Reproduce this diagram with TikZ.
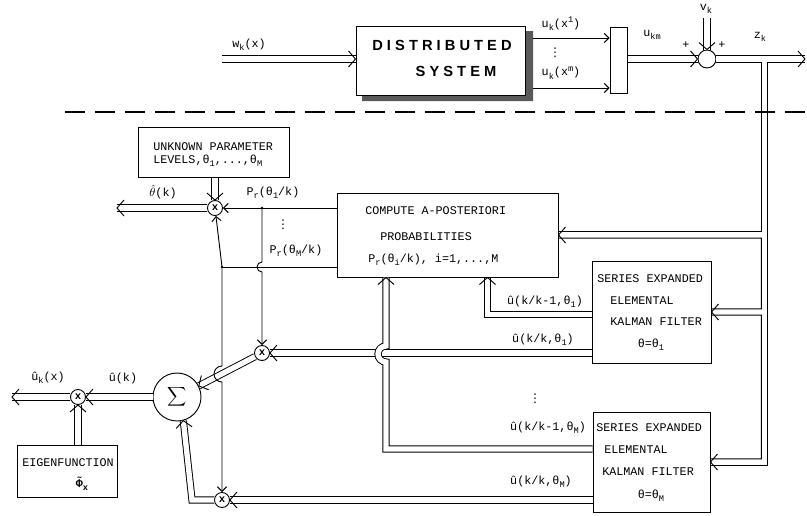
\documentclass[tikz,border=0pt]{standalone}
\usepackage{fontspec}
\usetikzlibrary{arrows.meta,calc,fit}
\newfontfamily\twfont{Liberation Mono}
\newfontfamily\dsfont{Liberation Sans}
\newfontfamily\djvfont{DejaVu Sans}
\newcommand\lsub[1]{\raisebox{-0.55ex}{\fontsize{6.5}{7}\selectfont #1}}
\newcommand\lsup[1]{\raisebox{0.7ex}{\fontsize{6.5}{7}\selectfont #1}}
\newcommand\vdts{{\djvfont\fontsize{9}{9}\selectfont ⋮}}
\begin{document}
\begin{tikzpicture}[x=0.75pt,y=-0.75pt,
  every node/.style={font=\twfont\fontsize{8.8}{10}\selectfont, inner sep=0pt},
  ln/.style={line width=0.7pt},
  pipe/.style={double, double distance=4pt, line width=0.7pt},
  sarr/.style={line width=0.7pt, -{Straight Barb[length=3.5pt,width=7pt]}},
  boxx/.style={draw, line width=0.75pt, inner sep=0pt},
  mult/.style={draw, circle, line width=0.7pt, minimum size=11.25pt, inner sep=0pt, font=\dsfont\bfseries\fontsize{8}{8}\selectfont},
  chev/.pic={\draw[line width=0.7pt] (-7,-8) -- (0,0) -- (-7,8);},
  lbl/.style={anchor=west}
]
\useasboundingbox (0,0) rectangle (807,515);

% ---------- top: distributed system ----------
\fill[black!65] (525,31) -- (533,31) -- (533,101) -- (362,101) -- (362,95) -- (525,95) -- cycle;
\node[boxx, fit={(356,26) (525,95)}] (ds) {};
\node at (442,45) {\dsfont\bfseries\fontsize{11}{12}\selectfont D I S T R I B U T E D};
\node at (456,71) {\dsfont\bfseries\fontsize{11}{12}\selectfont S Y S T E M};
\node[boxx, fit={(610,27) (627,93)}] (sb) {};
\node[draw, circle, line width=0.7pt, minimum size=13.5pt] (sj) at (707,59) {};

\coordinate (win) at (222,59);
\draw[pipe] (win) -- (win -| ds.west);
\path (win -| ds.west) pic{chev};
\node at (249,45) {w\lsub{k}(x)};

\coordinate (u1s) at (533,38);
\coordinate (ums) at (533,88);
\draw[sarr] (u1s) -- (u1s -| sb.west);
\draw[sarr] (ums) -- (ums -| sb.west);
\node at (561,24) {u\lsub{k}(x\lsup{1})};
\node at (555,53) {\vdts};
\node at (561,73) {u\lsub{k}(x\lsup{m})};

\draw[pipe] (sb.east |- sj) -- (sj.west);
\path (sj.west) pic{chev};
\node at (652,35) {u\lsub{km}};
\node at (686,45) {+};
\node at (722,45) {+};

\coordinate (vtop) at (707,18);
\draw[pipe] (vtop) -- (sj.north);
\path (sj.north) pic[rotate=270]{chev};
\node at (706,9) {v\lsub{k}};

\coordinate (zout) at (805,59);
\draw[pipe] (sj.east) -- (zout);
\path (zout) pic{chev};
\node at (760,37) {z\lsub{k}};

% dashed separator
\draw[line width=0.8pt, dash pattern=on 15pt off 7.5pt] (65,112) -- (807,112);

% ---------- lower part: nodes ----------
\node[boxx, fit={(138,127) (289,177)}] (upl) {};
\node[lbl] at (153,147) {UNKNOWN PARAMETER};
\node[lbl] at (153,161) {LEVELS,θ\lsub{1},...,θ\lsub{M}};

\node[boxx, fit={(337,193) (558,277)}] (cmp) {};
\node[lbl] at (365,211) {COMPUTE A-POSTERIORI};
\node[lbl] at (380,237) {PROBABILITIES};
\node[lbl] at (368,260) {P\lsub{r}(θ\lsub{i}/k), i=1,...,M};

\node[boxx, fit={(592,261) (711,363)}] (f1) {};
\node[lbl] at (597,279) {SERIES EXPANDED};
\node[lbl] at (610,301) {ELEMENTAL};
\node[lbl] at (610,322) {KALMAN FILTER};
\node at (651,345) {θ=θ\lsub{1}};

\node[boxx, fit={(593,412) (710,512)}] (fM) {};
\node[lbl] at (596,428) {SERIES EXPANDED};
\node[lbl] at (604,450) {ELEMENTAL};
\node[lbl] at (602,472) {KALMAN FILTER};
\node at (651,496) {θ=θ\lsub{M}};

\node[boxx, fit={(17,445) (117,497)}] (eig) {};
\node[lbl] at (22,463) {EIGENFUNCTION};
\node at (82,484) {\bfseries Φ̃\lsub{x}};

\node[mult] (m1) at (215,208) {x};
\node[mult] (m2) at (262,353) {x};
\node[mult] (m3) at (222,500) {x};
\node[mult] (m0) at (78,397) {x};
\node[draw, circle, line width=0.7pt, minimum size=36pt] (sig) at (177,397) {\fontsize{14}{14}\selectfont$\displaystyle\sum$};

% ---------- right feed network ----------
\fill[white] (761.9,60.6) rectangle (767.1,63.4);
\draw[ln] (761.4,62.1) |- ($(cmp.east)+(0,-3.1)$);
\draw[ln] ($(cmp.east)+(0,3.1)$) -| (761.4,308.9) -- ($(f1.east)+(0,-3.1)$);
\draw[ln] ($(f1.east)+(0,3.1)$) -| (761.4,458.9) -- ($(fM.east)+(0,-3.1)$);
\draw[ln] (767.6,62.1) |- ($(fM.east)+(0,3.1)$);
\path (cmp.east) pic[rotate=180]{chev};
\path (f1.east) pic[rotate=180]{chev};
\path (fM.east) pic[rotate=180]{chev};

% ---------- parameter estimate ----------
\draw[pipe] (upl.south -| m1) -- (m1.north);
\path (m1.north) pic[rotate=270]{chev};
\coordinate (thout) at (117,208);
\draw[pipe] (m1.west) -- (thout);
\path (thout) pic[rotate=180]{chev};
\node at (163,192) {$\hat{\theta}$(k)};

\coordinate (j1) at (262,208);
\coordinate (j2) at (222,267);
\draw[sarr] (cmp.west |- m1) -- (m1.east);
\draw[ln] (cmp.west |- j2) -- (j2);
\draw[sarr] (j2) -- (m1);
\fill (j1) circle[radius=1.4];
\fill (j2) circle[radius=1.4];
\node at (273,193) {P\lsub{r}(θ\lsub{1}/k)};
\node at (283,225) {\vdts};
\node at (296,251) {P\lsub{r}(θ\lsub{M}/k)};
\draw[sarr] (j1) -- (262,262) arc[start angle=270, end angle=90, radius=5] -- (m2.north);

% ---------- filter outputs ----------
\draw[pipe] (f1.west |- m2) -- (m2.east);
\path (m2.east) pic[rotate=180]{chev};
\node at (543,340) {û(k/k,θ\lsub{1})};

\coordinate (c1) at (487.5,314.5);
\draw[pipe] (f1.west |- c1) -- (c1) -- (c1 |- cmp.south);
\path (c1 |- cmp.south) pic[rotate=90]{chev};
\node at (545,302) {û(k/k-1,θ\lsub{1})};

\coordinate (cM) at (386,449);
\draw[pipe] (fM.west |- cM) -- (cM) -- (386,362) arc[start angle=90, end angle=270, radius=8] -- (cM |- cmp.south);
\path (cM |- cmp.south) pic[rotate=90]{chev};
\node at (548,428) {û(k/k-1,θ\lsub{M})};

\draw[pipe] (fM.west |- m3) -- (m3.east);
\path (m3.east) pic[rotate=180]{chev};
\node at (541,482) {û(k/k,θ\lsub{M})};

\node at (535,399) {\vdts};

% ---------- combination ----------
\draw[pipe] (m2) -- (sig.27.4);
\path (sig.27.4) pic[rotate=207.4]{chev};
\draw[sarr] (j2) -- (222,366) arc[start angle=270, end angle=90, radius=8] -- (m3.north);

\coordinate (cb) at (192,500);
\draw[pipe] (m3.west) -- (cb) -- (sig.-75);
\path (sig.-75) pic[rotate=96]{chev};

\draw[pipe] (sig.west) -- (m0.east);
\path (m0.east) pic[rotate=180]{chev};
\coordinate (uout) at (12,397);
\draw[pipe] (m0.west) -- (uout);
\path (uout) pic[rotate=180]{chev};
\node at (123,378) {û(k)};
\node at (48,378) {û\lsub{k}(x)};

\draw[pipe] (eig.north -| m0) -- (m0.south);
\path (m0.south) pic[rotate=90]{chev};
\end{tikzpicture}
\end{document}
